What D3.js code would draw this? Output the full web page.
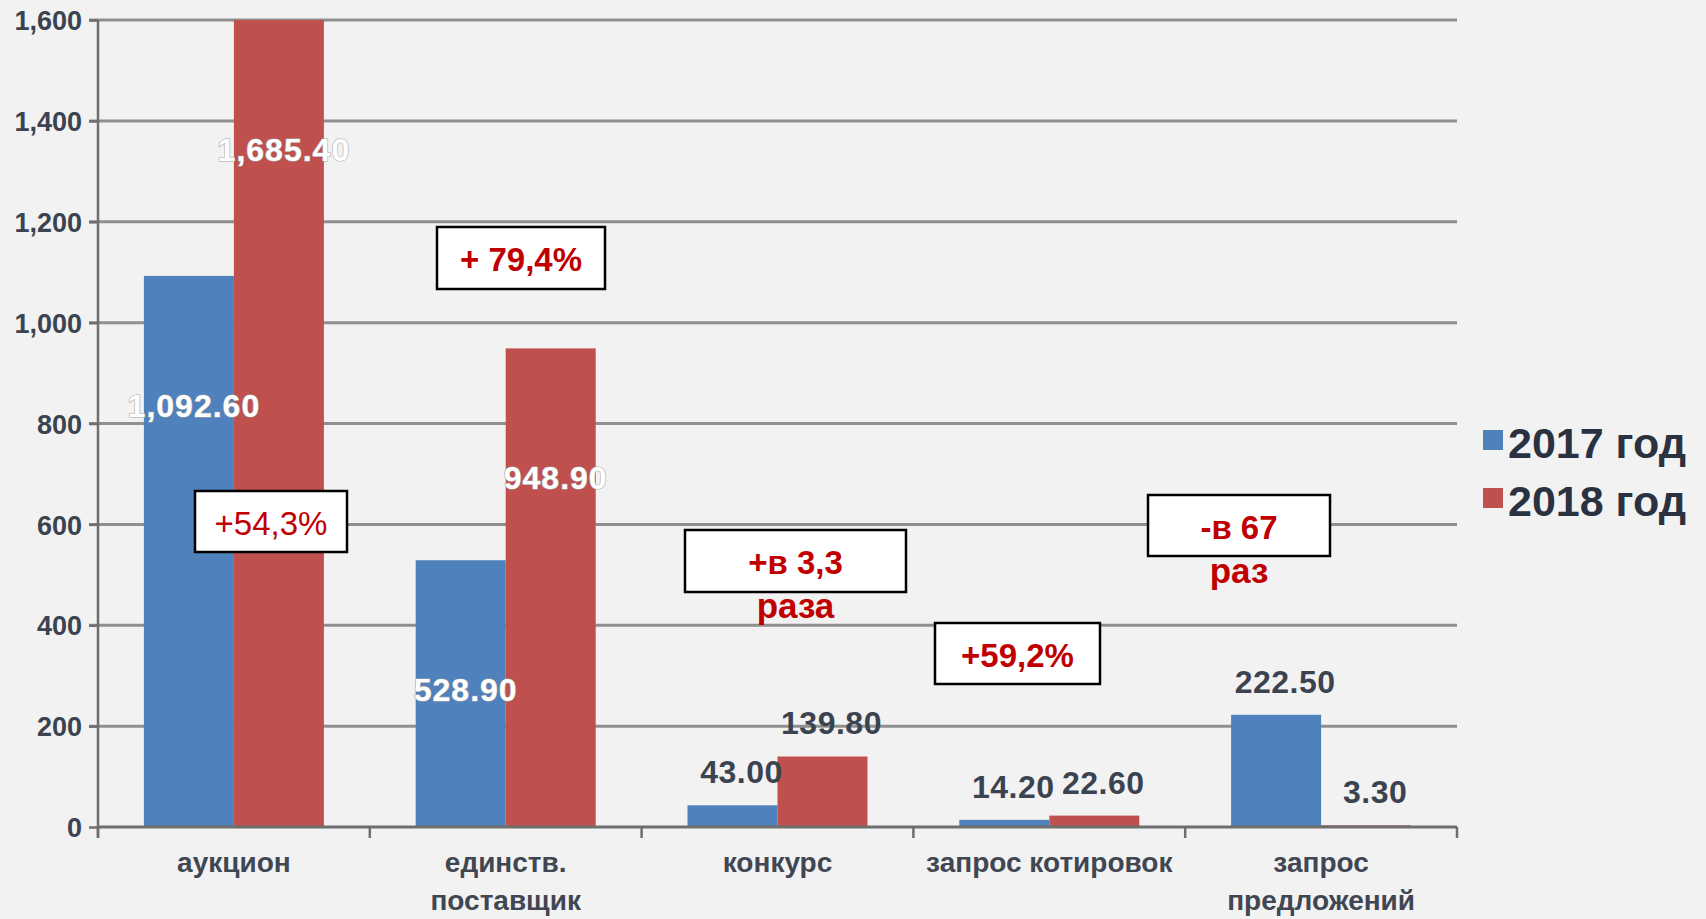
<!DOCTYPE html>
<html>
<head>
<meta charset="utf-8">
<script src="https://cdn.jsdelivr.net/npm/d3@7"></script>
<style>
  body { margin:0; background:#f2f2f2; }
  svg { display:block; }
  text { font-family:"Liberation Sans", Arial, sans-serif; font-weight:bold; }
</style>
</head>
<body>
<svg id="chart" width="1706" height="919"></svg>
<script>
// categories (two-line labels split by "|")
var categories = ["аукцион", "единств.|поставщик", "конкурс", "запрос котировок", "запрос|предложений"];
var seriesNames = ["2017 год", "2018 год"];
var values2017 = [1092.6, 528.9, 43.0, 14.2, 222.5];
var values2018 = [1685.4, 948.9, 139.8, 22.6, 3.3];
var yTicks = [0, 200, 400, 600, 800, 1000, 1200, 1400, 1600];
// change notes in the boxes
var changeNotes = [["+54,3%"], ["+ 79,4%"], ["+в 3,3", "раза"], ["+59,2%"], ["-в 67", "раз"]];

var conf = {
    left:98,
    right:1457,
    top:20,
    bottom:827,
    blue:"#4f81bd",
    red:"#c0504d",
    grid:"#8f8f8f",
    axis:"#6e6e6e",
    textColor:"#3b4350",
    noteColor:"#c00000"
};

// hand placed note boxes (pixels), same order as changeNotes
var noteLayout = [
    {x:195, y:491, w:152, h:61, weight:"normal"},
    {x:437, y:227, w:168, h:62, weight:"bold"},
    {x:685, y:530, w:221, h:62, weight:"bold"},
    {x:935, y:623, w:165, h:61, weight:"bold"},
    {x:1148, y:495, w:182, h:61, weight:"bold"}
];

var svg = d3.select("#chart");
var colors = [conf.blue, conf.red];
var series = [values2017, values2018];

var x = d3.scaleBand().domain(d3.range(categories.length)).range([conf.left, conf.right]).padding(0);
var xSub = d3.scaleBand().domain([0, 1]).range([0, x.bandwidth()]).paddingInner(0).paddingOuter(0.51);
var y = d3.scaleLinear().domain([0, 1600]).range([conf.bottom, conf.top]).clamp(true);

// gridlines
svg.append("g").selectAll("line").data(yTicks.slice(1)).enter().append("line")
    .attr("x1", conf.left - 9)
    .attr("x2", conf.right)
    .attr("y1", function(d){ return y(d); })
    .attr("y2", function(d){ return y(d); })
    .attr("stroke", conf.grid)
    .attr("stroke-width", 3);

// y axis
var yAxis = d3.axisLeft(y).tickValues(yTicks).tickSize(9).tickPadding(7).tickFormat(d3.format(","));
var gy = svg.append("g").attr("transform", "translate(" + conf.left + ",0)").call(yAxis);
gy.select(".domain").attr("stroke", conf.axis).attr("stroke-width", 2.5).attr("d", "M0," + (conf.bottom + 11) + "V" + conf.top);
gy.selectAll(".tick line").attr("stroke", conf.axis).attr("stroke-width", 2.5);
gy.selectAll(".tick text")
    .attr("fill", conf.textColor)
    .style("font-size", "27px")
    .attr("dy", "0.36em");

// bars
series.forEach(function(vals, s){
    svg.append("g").selectAll("rect").data(vals).enter().append("rect")
        .attr("x", function(d, i){ return x(i) + xSub(s); })
        .attr("y", function(d){ return y(d); })
        .attr("width", xSub.bandwidth())
        .attr("height", function(d){ return conf.bottom - y(d); })
        .attr("fill", colors[s]);
});

// x axis
svg.append("line")
    .attr("x1", conf.left).attr("x2", conf.right)
    .attr("y1", conf.bottom).attr("y2", conf.bottom)
    .attr("stroke", conf.axis).attr("stroke-width", 3);
svg.append("g").selectAll("line").data(d3.range(categories.length + 1)).enter().append("line")
    .attr("x1", function(i){ return conf.left + i * x.step(); })
    .attr("x2", function(i){ return conf.left + i * x.step(); })
    .attr("y1", conf.bottom)
    .attr("y2", conf.bottom + 11)
    .attr("stroke", conf.axis)
    .attr("stroke-width", 2.5);

// category labels
categories.forEach(function(c, i){
    c.split("|").forEach(function(line, k){
        svg.append("text")
            .attr("x", x(i) + x.bandwidth() / 2)
            .attr("y", 872 + k * 38)
            .attr("text-anchor", "middle")
            .attr("fill", "#404652")
            .style("font-size", "28px")
            .text(line);
    });
});

// value labels
var fmt = d3.format(",.2f");
series.forEach(function(vals, s){
    vals.forEach(function(v, i){
        var cx = x(i) + xSub(s) + xSub.bandwidth() / 2;
        var top = y(v);
        var inside = v > 400;
        var t = svg.append("text")
            .attr("text-anchor", "middle")
            .style("font-size", "32px")
            .style("letter-spacing", inside ? "1px" : "0.5px")
            .text(fmt(v));
        if (inside) {
            t.attr("x", cx + 5).attr("y", top + 141)
                .attr("fill", "#ffffff")
                .attr("stroke", "#a9a9a9")
                .attr("stroke-width", 1.2)
                .attr("paint-order", "stroke");
        } else {
            t.attr("x", cx + 9).attr("y", top - 22)
                .attr("fill", conf.textColor);
        }
    });
});

// change notes
changeNotes.forEach(function(lines, i){
    var b = noteLayout[i];
    svg.append("rect")
        .attr("x", b.x).attr("y", b.y)
        .attr("width", b.w).attr("height", b.h)
        .attr("fill", "#ffffff")
        .attr("stroke", "#000000")
        .attr("stroke-width", 2.5);
    lines.forEach(function(line, k){
        svg.append("text")
            .attr("x", b.x + b.w / 2)
            .attr("y", b.y + b.h / 2 + 13 + k * 44)
            .attr("text-anchor", "middle")
            .attr("fill", conf.noteColor)
            .style("font-size", k ? "35px" : "33px")
            .style("font-weight", b.weight)
            .text(line);
    });
});

// legend
var legend = svg.append("g").attr("transform", "translate(1483,430)");
seriesNames.forEach(function(name, s){
    var g = legend.append("g").attr("transform", "translate(0," + (s * 58) + ")");
    g.append("rect").attr("width", 20).attr("height", 20).attr("fill", colors[s]);
    g.append("text")
        .attr("x", 25)
        .attr("y", 28)
        .attr("fill", "#2a3140")
        .style("font-size", "43px")
        .text(name);
});
</script>
</body>
</html>
